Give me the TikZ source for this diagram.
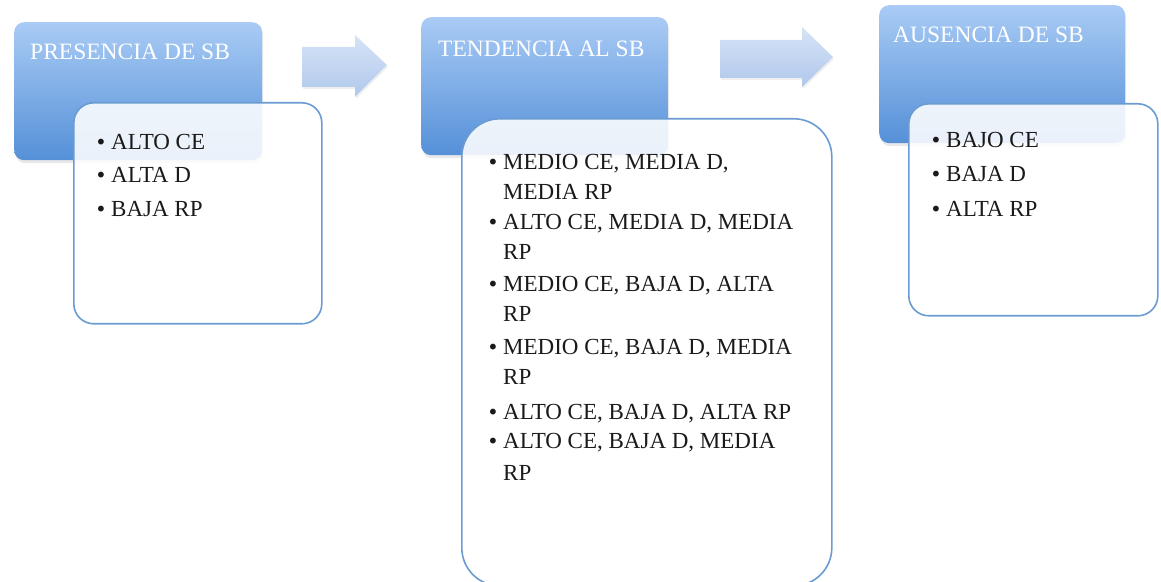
\documentclass[tikz,border=0pt]{standalone}
\usepackage{fontspec}
\setmainfont{Liberation Serif}
\newfontfamily\bulfont{DejaVu Sans}
\usetikzlibrary{shadows}
\definecolor{bluetop}{HTML}{A9CBF5}
\definecolor{bluebot}{HTML}{5590D8}
\definecolor{edgeblue}{HTML}{6B9BD1}
\definecolor{arrowtop}{HTML}{D6E3F6}
\definecolor{arrowbot}{HTML}{B0C8EC}
\definecolor{ink}{HTML}{1A1A1A}
\tikzset{
  header/.style={rectangle, rounded corners=10pt, top color=bluetop, bottom color=bluebot,
    draw=none, anchor=north west, inner sep=0pt,
    drop shadow={shadow xshift=1pt, shadow yshift=-3pt, opacity=0.15, fill=black!60}},
  listbox/.style={rectangle, draw=edgeblue, line width=1.6pt, fill=white, fill opacity=0.88,
    anchor=north west, inner sep=0pt},
  titletext/.style={anchor=base west, text=white, inner sep=0pt, font=\fontsize{23.5}{28}\selectfont},
  itemline/.style={anchor=base west, inner sep=0pt, text=ink, font=\fontsize{23}{30}\selectfont},
  blockarrow/.style={top color=arrowtop, bottom color=arrowbot, draw=none,
    drop shadow={shadow xshift=1pt, shadow yshift=-2pt, opacity=0.1, fill=black!60}},
}
\newcommand{\bul}{\makebox[16pt][l]{{\bulfont\fontsize{20}{20}\selectfont •}}}
\newcommand{\ind}{\hspace*{16pt}}
\begin{document}
\begin{tikzpicture}[x=1pt,y=1pt]
\useasboundingbox (0,0) rectangle (1161,581);
% headers
\node[header, minimum width=248pt, minimum height=138pt] (h1) at (14,559) {};
\node[header, minimum width=247pt, minimum height=138pt] (h2) at (421,564) {};
\node[header, minimum width=246pt, minimum height=138pt] (h3) at (879,576) {};
\node[titletext] (t1) at (30,521) {PRESENCIA DE SB};
\node[titletext] (t2) at (438,524) {TENDENCIA AL SB};
\node[titletext] (t3) at (893,538) {AUSENCIA DE SB};
% block arrows
\path[blockarrow] (302,534) -- (355,534) -- (355,546) -- (387,516) -- (355,484) -- (355,494) -- (302,494) -- cycle;
\path[blockarrow] (720,541) -- (802,541) -- (802,554) -- (833,524) -- (802,494) -- (802,503) -- (720,503) -- cycle;
% list boxes
\node[listbox, rounded corners=20pt, minimum width=248pt, minimum height=221pt] (b1) at (73,479) {};
\node[listbox, rounded corners=38pt, minimum width=370pt, minimum height=467pt] (b2) at (461,463) {};
\node[listbox, rounded corners=20pt, minimum width=249pt, minimum height=212pt] (b3) at (908,478) {};
% box 1 items
\node[itemline] (a1) at (95,431) {\bul ALTO CE};
\node[itemline] (a2) at (95,398) {\bul ALTA D};
\node[itemline] (a3) at (95,364) {\bul BAJA RP};
% box 2 items
\node[itemline] (c1) at (487,411) {\bul MEDIO CE, MEDIA D,};
\node[itemline] (c1b) at (487,381) {\ind MEDIA RP};
\node[itemline] (c2) at (487,351) {\bul ALTO CE, MEDIA D, MEDIA};
\node[itemline] (c2b) at (487,321) {\ind RP};
\node[itemline] (c3) at (487,289) {\bul MEDIO CE, BAJA D, ALTA};
\node[itemline] (c3b) at (487,259) {\ind RP};
\node[itemline] (c4) at (487,226) {\bul MEDIO CE, BAJA D, MEDIA};
\node[itemline] (c4b) at (487,196) {\ind RP};
\node[itemline] (c5) at (487,161) {\bul ALTO CE, BAJA D, ALTA RP};
\node[itemline] (c6) at (487,132) {\bul ALTO CE, BAJA D, MEDIA};
\node[itemline] (c6b) at (487,101) {\ind RP};
% box 3 items
\node[itemline] (d1) at (930,433) {\bul BAJO CE};
\node[itemline] (d2) at (930,399) {\bul BAJA D};
\node[itemline] (d3) at (930,364) {\bul ALTA RP};
\end{tikzpicture}
\end{document}
